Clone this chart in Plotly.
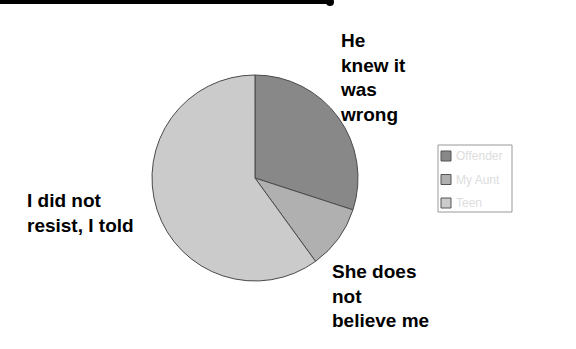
import plotly.graph_objects as go

categories = ["Offender", "My Aunt", "Teen"]
values = [30, 10, 60]
colors = ["#888888", "#b0b0b0", "#cbcbcb"]
callouts = ["He<br>knew it<br>was<br>wrong", "She does<br>not<br>believe me", "I did not<br>resist, I told"]

W, H = 576, 349
FONT = "Liberation Sans, Arial, Helvetica"

fig = go.Figure()
fig.add_trace(go.Pie(
    labels=categories,
    values=values,
    sort=False,
    direction="clockwise",
    rotation=0,
    textinfo="none",
    hoverinfo="label+value",
    showlegend=False,
    marker=dict(colors=colors, line=dict(color="#4a4a4a", width=1)),
    domain=dict(x=[152 / W, 358 / W], y=[(H - 281) / H, (H - 75) / H]),
))

# callout labels (paper px: left x, middle y)
pos = [(338, 77), (330, 296), (25, 213)]
for txt, (px, py) in zip(callouts, pos):
    fig.add_annotation(
        x=px / W, y=1 - py / H, xref="paper", yref="paper",
        text="<b>" + txt + "</b>", showarrow=False,
        xanchor="left", yanchor="middle", align="left",
        font=dict(family=FONT, size=19, color="#000000"),
    )

# top border line
fig.add_shape(type="line", xref="paper", yref="paper",
              x0=0, x1=330 / W, y0=1 - 2 / H, y1=1 - 2 / H,
              line=dict(color="#000000", width=4))
fig.add_shape(type="circle", xref="paper", yref="paper",
              x0=326 / W, x1=334 / W, y0=1 - 6 / H, y1=1 + 2 / H,
              fillcolor="#000000", line=dict(width=0))

# manual legend box
lx0, ly0, lx1, ly1 = 438, 145, 512, 212
fig.add_shape(type="rect", xref="paper", yref="paper",
              x0=lx0 / W, x1=lx1 / W, y0=1 - ly1 / H, y1=1 - ly0 / H,
              fillcolor="#ffffff", line=dict(color="#999999", width=1))
for i, (cat, col) in enumerate(zip(categories, colors)):
    cy = 156 + i * 23.5
    fig.add_shape(type="rect", xref="paper", yref="paper",
                  x0=441 / W, x1=451 / W, y0=1 - (cy + 5) / H, y1=1 - (cy - 5) / H,
                  fillcolor=col, line=dict(color="#555555", width=1))
    fig.add_annotation(
        x=454 / W, y=1 - cy / H, xref="paper", yref="paper",
        text=cat, showarrow=False, xanchor="left", yanchor="middle",
        font=dict(family=FONT, size=12, color="#dddddd"),
    )

fig.update_layout(
    width=W, height=H,
    margin=dict(l=0, r=0, t=0, b=0),
    paper_bgcolor="#ffffff",
    plot_bgcolor="#ffffff",
    showlegend=False,
)

fig.write_html("out.html")
